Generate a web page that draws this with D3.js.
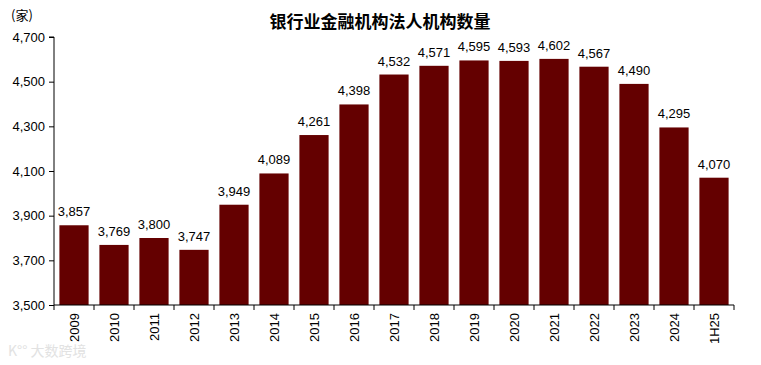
<!DOCTYPE html>
<html><head><meta charset="utf-8">
<script src="https://cdn.jsdelivr.net/npm/d3@7"></script>
<style>body{margin:0;background:#fff;font-family:"Liberation Sans",Arial,sans-serif;}</style>
</head><body>
<svg id="c" width="761" height="365"></svg>
<script>
const categories = ["2009","2010","2011","2012","2013","2014","2015","2016","2017","2018","2019","2020","2021","2022","2023","2024","1H25"];
const values = [3857,3769,3800,3747,3949,4089,4261,4398,4532,4571,4595,4593,4602,4567,4490,4295,4070];
const yTicks = [3500,3700,3900,4100,4300,4500,4700];
const title = "银行业金融机构法人机构数量";
const unit = "(家)";

const svg = d3.select("#c");
const m = {l:54, r:27, t:37, b:60};
const W = 761, H = 365;
const x = d3.scaleBand().domain(categories).range([m.l, W - m.r]).paddingInner(0.27).paddingOuter(0.135);
const y = d3.scaleLinear().domain([3500,4700]).range([H - m.b, m.t]);
const fmt = d3.format(",");

svg.append("text").attr("x", 380).attr("y", 28).attr("text-anchor","middle")
  .attr("font-family","'Noto Sans CJK SC',sans-serif").attr("font-weight","bold").attr("font-size",17).text(title);
svg.append("text").attr("x", 11).attr("y", 20).attr("font-family","'Noto Sans CJK SC',sans-serif").attr("font-size",13).text(unit);

svg.append("g").selectAll("rect").data(values).join("rect")
  .attr("x",(d,i)=>x(categories[i])).attr("width",x.bandwidth())
  .attr("y",d=>y(d)).attr("height",d=>y(3500)-y(d)).attr("fill","#640000");

svg.append("g").selectAll("text").data(values).join("text")
  .attr("x",(d,i)=>x(categories[i])+x.bandwidth()/2).attr("y",d=>y(d)-9)
  .attr("text-anchor","middle").attr("font-size",13).attr("fill","#000").text(d=>fmt(d));

const ya = svg.append("g").attr("transform",`translate(${m.l},0)`)
  .call(d3.axisLeft(y).tickValues(yTicks).tickFormat(fmt).tickSize(5).tickPadding(4));
ya.selectAll("text").attr("font-size",13).attr("font-family","'Liberation Sans',Arial,sans-serif").attr("fill","#000");
ya.select(".domain").attr("d",`M-5,${y(4700)}H0V${y(3500)}`);

const xg = svg.append("g").attr("transform",`translate(0,${y(3500)})`);
xg.append("line").attr("x1",m.l).attr("x2",W-m.r).attr("stroke","#000");
const bounds = d3.range(categories.length+1).map(i=>m.l + i*(W-m.r-m.l)/categories.length);
xg.selectAll("line.t").data(bounds).join("line").attr("class","t")
  .attr("x1",d=>d).attr("x2",d=>d).attr("y1",0).attr("y2",5).attr("stroke","#000");
xg.selectAll("text").data(categories).join("text")
  .attr("transform",d=>`translate(${x(d)+x.bandwidth()/2+5},8) rotate(-90)`)
  .attr("text-anchor","end").attr("font-size",13).attr("fill","#000").text(d=>d);

svg.append("text").attr("x",8).attr("y",356).attr("font-family","'Noto Sans CJK SC',sans-serif")
  .attr("font-size",14).attr("fill","#e2e2e2").text("K°° 大数跨境");
</script>
</body></html>
